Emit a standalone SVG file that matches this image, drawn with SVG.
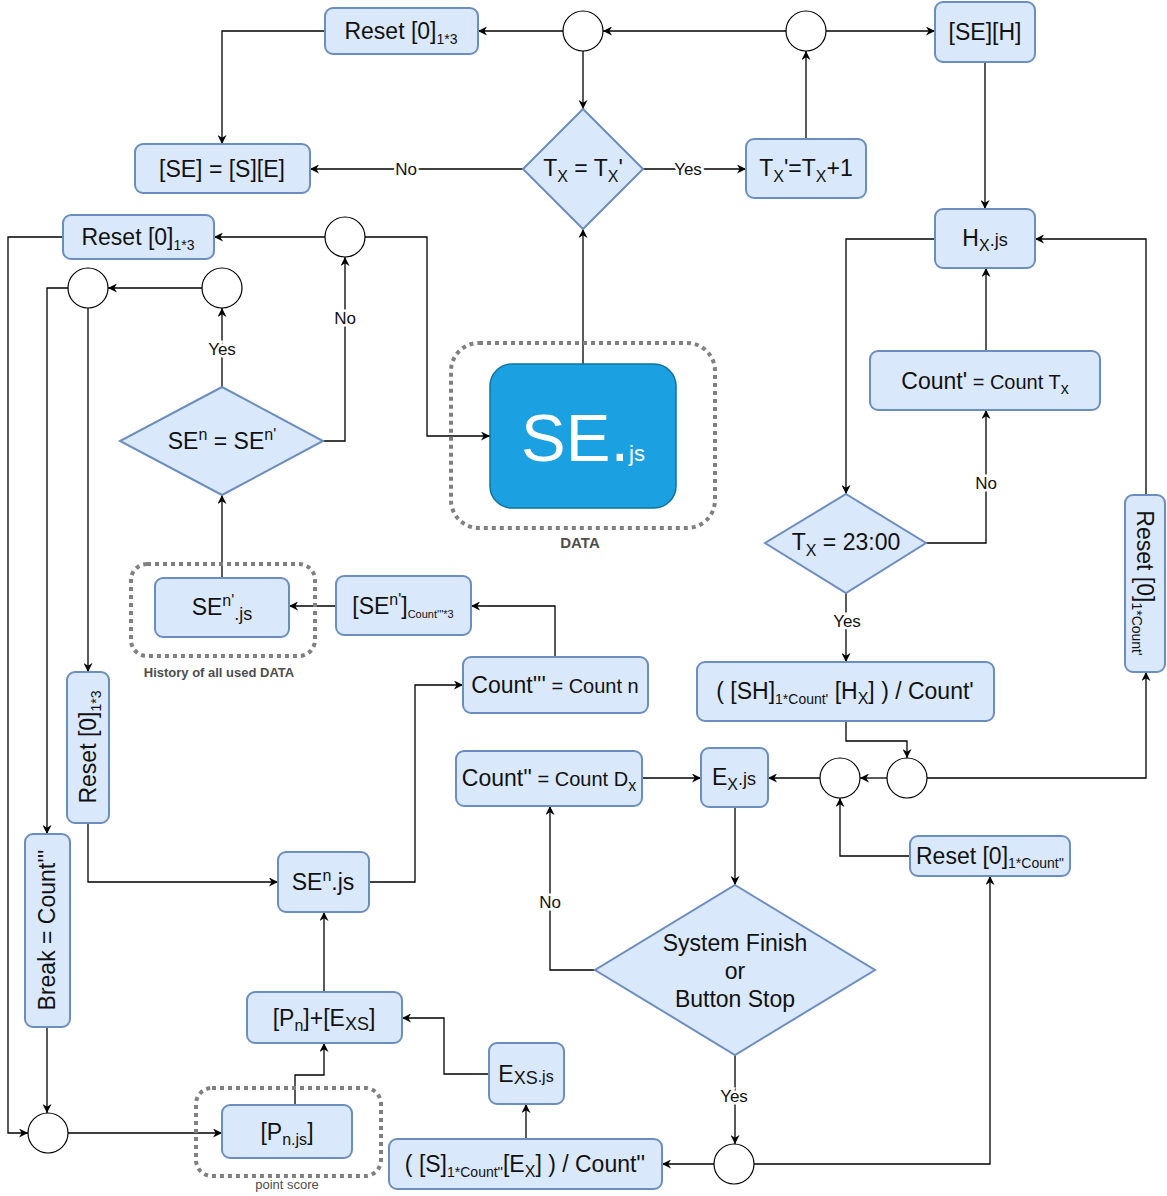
<svg xmlns="http://www.w3.org/2000/svg" width="1167" height="1196" viewBox="0 0 1167 1196">
<defs>
<marker id="a" viewBox="0 0 10 10" refX="10" refY="5" markerWidth="9" markerHeight="9" markerUnits="userSpaceOnUse" orient="auto">
<path d="M0,0 L10,5 L0,10 L3,5 z" fill="#000"/>
</marker>
</defs>
<style>
.b{fill:#dae8fc;stroke:#6c8ebf;stroke-width:2}
.c{fill:#fff;stroke:#000;stroke-width:1.2}
.d{fill:none;stroke:#808080;stroke-width:4;stroke-dasharray:4 4}
.e{fill:none;stroke:#000;stroke-width:1.3;marker-end:url(#a)}
.t{font-family:"Liberation Sans",Arial,sans-serif;font-size:23px;fill:#111;text-anchor:middle}
.m{font-size:20px}
.s{font-size:14px}
.x{font-size:16px}
.j{font-size:18px}
.l{font-family:"Liberation Sans",Arial,sans-serif;font-size:17px;fill:#111;text-anchor:middle;stroke:#fff;stroke-width:5px;paint-order:stroke}
.g{font-family:"Liberation Sans",Arial,sans-serif;font-size:13px;fill:#4d4d4d;text-anchor:middle}
</style>
<rect width="1167" height="1196" fill="#fff"/>

<g id="connectors">
<path class="e" d="M563,31 H478"/>
<path class="e" d="M325,31 H222 V144"/>
<path class="e" d="M583,51 V109"/>
<path class="e" d="M523,169 H310"/>
<path class="e" d="M643,169 H746"/>
<path class="e" d="M806,139 V51"/>
<path class="e" d="M786,31 H603"/>
<path class="e" d="M826,31 H935"/>
<path class="e" d="M985,62 V209"/>
<path class="e" d="M583,364 V229"/>
<path class="e" d="M325,237 H214"/>
<path class="e" d="M365,237 H427 V436 H490"/>
<path class="e" d="M63,237 H8 V1133 H28"/>
<path class="e" d="M202,288 H108"/>
<path class="e" d="M68,288 H47 V834"/>
<path class="e" d="M88,308 V672"/>
<path class="e" d="M222,387 V308"/>
<path class="e" d="M323,441 H345 V257"/>
<path class="e" d="M222,578 V495"/>
<path class="e" d="M336,606 H289"/>
<path class="e" d="M555,657 V606 H471"/>
<path class="e" d="M369,882 H415 V685 H463"/>
<path class="e" d="M88,823 V882 H278"/>
<path class="e" d="M47,1027 V1113"/>
<path class="e" d="M68,1133 H222"/>
<path class="e" d="M295,1105 V1075 H324 V1043"/>
<path class="e" d="M324,992 V912"/>
<path class="e" d="M489,1074 H444 V1018 H402"/>
<path class="e" d="M526,1139 V1104"/>
<path class="e" d="M714,1164 H662"/>
<path class="e" d="M754,1164 H990 V876"/>
<path class="e" d="M735,1055 V1144"/>
<path class="e" d="M595,970 H550 V806"/>
<path class="e" d="M642,778 H701"/>
<path class="e" d="M735,807 V885"/>
<path class="e" d="M820,778 H768"/>
<path class="e" d="M887,778 H860"/>
<path class="e" d="M910,856 H840 V798"/>
<path class="e" d="M927,778 H1146 V672"/>
<path class="e" d="M1146,495 V239 H1035"/>
<path class="e" d="M846,721 V741 H907 V758"/>
<path class="e" d="M935,239 H846 V494"/>
<path class="e" d="M926,543 H986 V410"/>
<path class="e" d="M986,351 V268"/>
<path class="e" d="M846,593 V662"/>
<text class="l" x="406" y="175">No</text>
<text class="l" x="688" y="175">Yes</text>
<text class="l" x="222" y="355">Yes</text>
<text class="l" x="345" y="324">No</text>
<text class="l" x="986" y="489">No</text>
<text class="l" x="847" y="627">Yes</text>
<text class="l" x="550" y="908">No</text>
<text class="l" x="734" y="1102">Yes</text>
</g>

<g id="reset-top"><rect class="b" x="325" y="8" width="153" height="46" rx="8"/>
<text class="t" x="401" y="39">Reset [0]<tspan class="s" dy="5">1*3</tspan></text></g>
<g id="c1"><circle class="c" cx="583" cy="31" r="20"/></g>
<g id="c2"><circle class="c" cx="806" cy="31" r="20"/></g>
<g id="seh"><rect class="b" x="935" y="2" width="100" height="60" rx="8"/>
<text class="t" x="985" y="40">[SE][H]</text></g>
<g id="tx-eq"><polygon class="b" points="583,109 643,169 583,229 523,169"/>
<text class="t" x="583" y="176">T<tspan class="x" dy="6">X</tspan><tspan dy="-6"> = T</tspan><tspan class="x" dy="6">X</tspan><tspan dy="-6">'</tspan></text></g>
<g id="se-s-e"><rect class="b" x="135" y="144" width="175" height="49" rx="8"/>
<text class="t" x="222" y="177">[SE] = [S][E]</text></g>
<g id="tx-inc"><rect class="b" x="746" y="139" width="120" height="59" rx="8"/>
<text class="t" x="806" y="176">T<tspan class="x" dy="6">X</tspan><tspan dy="-6">'=T</tspan><tspan class="x" dy="6">X</tspan><tspan dy="-6">+1</tspan></text></g>
<g id="reset-2"><rect class="b" x="63" y="215" width="151" height="44" rx="8"/>
<text class="t" x="138" y="245">Reset [0]<tspan class="s" dy="5">1*3</tspan></text></g>
<g id="c3"><circle class="c" cx="345" cy="237" r="20"/></g>
<g id="c4"><circle class="c" cx="88" cy="288" r="20"/></g>
<g id="c5"><circle class="c" cx="222" cy="288" r="20"/></g>
<g id="sen-eq"><polygon class="b" points="222,387 323,441 222,495 120,441"/>
<text class="t" x="222" y="449">SE<tspan class="x" dy="-9">n</tspan><tspan dy="9"> = SE</tspan><tspan class="x" dy="-9">n'</tspan></text></g>
<g id="data"><rect class="d" x="451" y="343" width="264" height="185" rx="28"/>
<rect x="490" y="364" width="186" height="144" rx="22" fill="#1ba1e2" stroke="#10739e" stroke-width="1.5"/>
<text x="583" y="461" font-family="Liberation Sans,Arial,sans-serif" font-size="67" fill="#fff" text-anchor="middle">SE.<tspan font-size="22">js</tspan></text>
<text x="580" y="548" font-family="Liberation Sans,Arial,sans-serif" font-size="15" font-weight="bold" fill="#4d4d4d" text-anchor="middle">DATA</text></g>
<g id="hx"><rect class="b" x="935" y="209" width="100" height="59" rx="8"/>
<text class="t" x="985" y="246">H<tspan class="x" dy="5">X</tspan><tspan class="j" dy="-5">.js</tspan></text></g>
<g id="count1"><rect class="b" x="870" y="351" width="230" height="59" rx="8"/>
<text class="t" x="985" y="389">Count'<tspan class="m"> = Count T</tspan><tspan class="x" dy="5">x</tspan></text></g>
<g id="tx2300"><polygon class="b" points="846,494 926,543 846,593 765,543"/>
<text class="t" x="846" y="550">T<tspan class="x" dy="6">X</tspan><tspan dy="-6"> = 23:00</tspan></text></g>
<g id="reset-count1"><rect class="b" x="1125" y="495" width="40" height="177" rx="8"/>
<text class="t" transform="translate(1145,583) rotate(90)" x="0" y="8">Reset [0]<tspan class="s" dy="5">1*Count'</tspan></text></g>
<g id="sh"><rect class="b" x="697" y="662" width="297" height="59" rx="8"/>
<text class="t" x="845" y="699">( [SH]<tspan class="s" dy="5">1*Count'</tspan><tspan dy="-5"> [H</tspan><tspan class="x" dy="5">X</tspan><tspan dy="-5">] ) / Count'</tspan></text></g>
<g id="c6"><circle class="c" cx="907" cy="778" r="20"/></g>
<g id="c7"><circle class="c" cx="840" cy="778" r="20"/></g>
<g id="ex"><rect class="b" x="701" y="748" width="67" height="59" rx="8"/>
<text class="t" x="734" y="785">E<tspan class="x" dy="5">X</tspan><tspan class="j" dy="-5">.js</tspan></text></g>
<g id="count2"><rect class="b" x="456" y="751" width="186" height="55" rx="8"/>
<text class="t" x="549" y="786">Count''<tspan class="m"> = Count D</tspan><tspan class="x" dy="5">x</tspan></text></g>
<g id="reset-count2"><rect class="b" x="910" y="836" width="160" height="40" rx="8"/>
<text class="t" x="990" y="864">Reset [0]<tspan class="s" dy="4">1*Count''</tspan></text></g>
<g id="finish"><polygon class="b" points="735,885 875,970 735,1055 595,970"/>
<text class="t" x="735" y="951">System Finish</text>
<text class="t" x="735" y="979">or</text>
<text class="t" x="735" y="1007">Button Stop</text></g>
<g id="c8"><circle class="c" cx="734" cy="1164" r="20"/></g>
<g id="s-ex"><rect class="b" x="389" y="1139" width="273" height="50" rx="8"/>
<text class="t" x="525" y="1172">( [S]<tspan class="s" dy="5">1*Count''</tspan><tspan dy="-5">[E</tspan><tspan class="x" dy="5">X</tspan><tspan dy="-5">] ) / Count''</tspan></text></g>
<g id="exs"><rect class="b" x="489" y="1043" width="75" height="61" rx="8"/>
<text class="t" x="526" y="1082">E<tspan class="j" dy="2">XS</tspan><tspan class="x" dy="-2">.js</tspan></text></g>
<g id="pn-exs"><rect class="b" x="247" y="992" width="155" height="51" rx="8"/>
<text class="t" x="324" y="1026">[P<tspan class="x" dy="5">n</tspan><tspan dy="-5">]+[E</tspan><tspan class="j" dy="4">XS</tspan><tspan dy="-4">]</tspan></text></g>
<g id="pn"><rect class="d" x="196" y="1088" width="185" height="88" rx="16"/>
<rect class="b" x="222" y="1105" width="130" height="53" rx="8"/>
<text class="t" x="287" y="1140">[P<tspan class="x" dy="5">n.js</tspan><tspan dy="-5">]</tspan></text>
<text class="g" x="287" y="1189" fill="#333">point score</text></g>
<g id="c9"><circle class="c" cx="48" cy="1133" r="20"/></g>
<g id="break"><rect class="b" x="25" y="834" width="45" height="193" rx="8"/>
<text class="t" transform="translate(47,930) rotate(-90)" x="0" y="8">Break = Count'''</text></g>
<g id="reset-v"><rect class="b" x="67" y="672" width="42" height="151" rx="8"/>
<text class="t" transform="translate(88,747) rotate(-90)" x="0" y="8">Reset [0]<tspan class="s" dy="5">1*3</tspan></text></g>
<g id="sen"><rect class="b" x="278" y="852" width="91" height="60" rx="8"/>
<text class="t" x="323" y="890">SE<tspan class="x" dy="-9">n</tspan><tspan dy="9">.js</tspan></text></g>
<g id="count3"><rect class="b" x="463" y="657" width="185" height="56" rx="8"/>
<text class="t" x="555" y="693">Count'''<tspan class="m"> = Count n</tspan></text></g>
<g id="sen-arr"><rect class="b" x="336" y="576" width="135" height="59" rx="8"/>
<text class="t" x="403" y="614">[SE<tspan class="x" dy="-9">n'</tspan><tspan dy="9">]</tspan><tspan font-size="11" dy="4">Count'''*3</tspan></text></g>
<g id="hist"><rect class="d" x="131" y="564" width="184" height="92" rx="16"/>
<rect class="b" x="155" y="578" width="134" height="59" rx="8"/>
<text class="t" x="222" y="615">SE<tspan class="x" dy="-9">n'</tspan><tspan class="j" dy="14">.js</tspan></text>
<text class="g" x="219" y="677" font-weight="bold">History of all used DATA</text></g>
</svg>
